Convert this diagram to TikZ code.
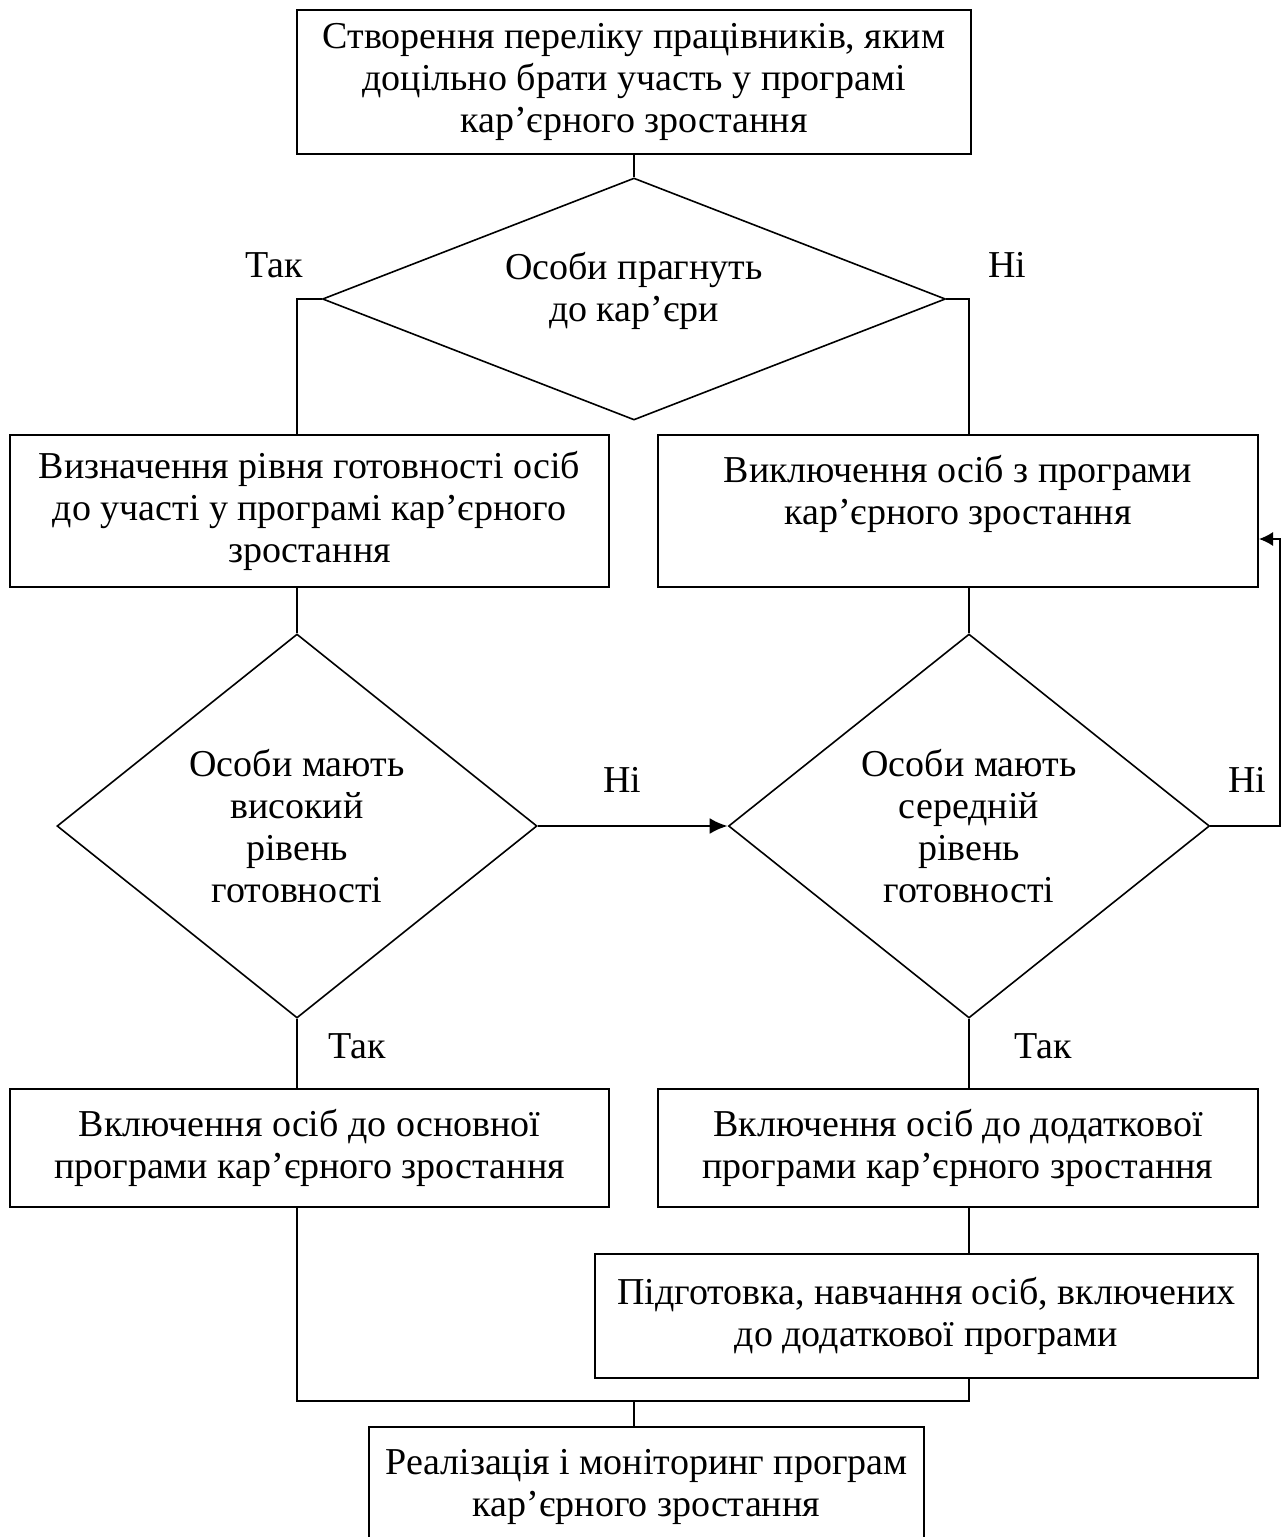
\documentclass[tikz,border=0pt]{standalone}
\usepackage{fontspec}
\setmainfont{Liberation Serif}
\usetikzlibrary{shapes.geometric,arrows.meta}
\tikzset{
  box/.style={draw, line width=1pt, rectangle, align=center, inner sep=2pt},
  cond/.style={draw, line width=0.8pt, diamond, align=center, inner sep=0pt},
  conn/.style={line width=0.7pt},
  arrowconn/.style={line width=0.7pt, -{Latex[length=7pt,width=7pt]}},
  thickarrow/.style={line width=1.4pt, -{Latex[length=9pt,width=8pt]}},
  lbl/.style={inner sep=0pt}
}
\begin{document}
\begin{tikzpicture}[x=0.5pt,y=-0.5pt,font=\fontsize{19}{21}\selectfont]
  \useasboundingbox (0,0) rectangle (1282,1537);
  % boxes and conditions
  \node[box, minimum width=337pt, minimum height=72pt] (create) at (634,82) {Створення переліку працівників, яким\\доцільно брати участь у програмі\\кар’єрного зростання};
  \node[cond, aspect=2.6, minimum width=311.5pt, minimum height=121pt, text depth=12pt] (wish) at (634,299) {Особи прагнуть\\до кар’єри};
  \node[box, minimum width=299.5pt, minimum height=76pt] (readiness) at (309.5,511) {Визначення рівня готовності осіб\\до участі у програмі кар’єрного\\зростання};
  \node[box, minimum width=300pt, minimum height=76pt] (exclude) at (958,511) {Виключення осіб з програми\\кар’єрного зростання\\~};
  \node[cond, aspect=1.25, minimum width=240pt, minimum height=192pt] (high) at (297,826) {Особи мають\\високий\\рівень\\готовності};
  \node[cond, aspect=1.25, minimum width=240.5pt, minimum height=192pt] (medium) at (969,826) {Особи мають\\середній\\рівень\\готовності};
  \node[box, minimum width=299.5pt, minimum height=59pt] (mainprog) at (309.5,1148) {Включення осіб до основної\\програми кар’єрного зростання};
  \node[box, minimum width=300pt, minimum height=59pt] (extraprog) at (958,1148) {Включення осіб до додаткової\\програми кар’єрного зростання};
  \node[box, minimum width=331.5pt, minimum height=62pt] (training) at (926.5,1316) {Підготовка, навчання осіб, включених\\до додаткової програми};
  \node[box, minimum width=277.5pt, minimum height=60pt] (monitor) at (646.5,1487) {Реалізація і моніторинг програм\\кар’єрного зростання};
  % answers
  \node[lbl] (yes1) at (274,265) {Так};
  \node[lbl] (no1) at (1007,265) {Ні};
  \node[lbl] (no2) at (622,780) {Ні};
  \node[lbl] (no3) at (1247,780) {Ні};
  \node[lbl] (yes2) at (357,1046) {Так};
  \node[lbl] (yes3) at (1043,1046) {Так};
  \coordinate (back) at (1280,539);
  \coordinate (join) at (634,1401);
  % connectors
  \draw[conn] (create) -- (wish);
  \draw[conn] (wish.west) -| (high.north |- readiness.north);
  \draw[conn] (wish.east) -| (medium.north |- exclude.north);
  \draw[conn] (readiness.south -| high) -- (high.north);
  \draw[conn] (exclude.south -| medium) -- (medium.north);
  \draw[thickarrow] (high.east) -- (medium.west);
  \draw[arrowconn] (medium.east) -| (back) -- (back -| exclude.east);
  \draw[conn] (high.south) -- (mainprog.north -| high);
  \draw[conn] (medium.south) -- (extraprog.north -| medium);
  \draw[conn] (extraprog.south -| medium) -- (training.north -| medium);
  \draw[conn] (mainprog.south -| high) |- (join) -| (training.south -| medium);
  \draw[conn] (join) -- (join |- monitor.north);
\end{tikzpicture}
\end{document}
